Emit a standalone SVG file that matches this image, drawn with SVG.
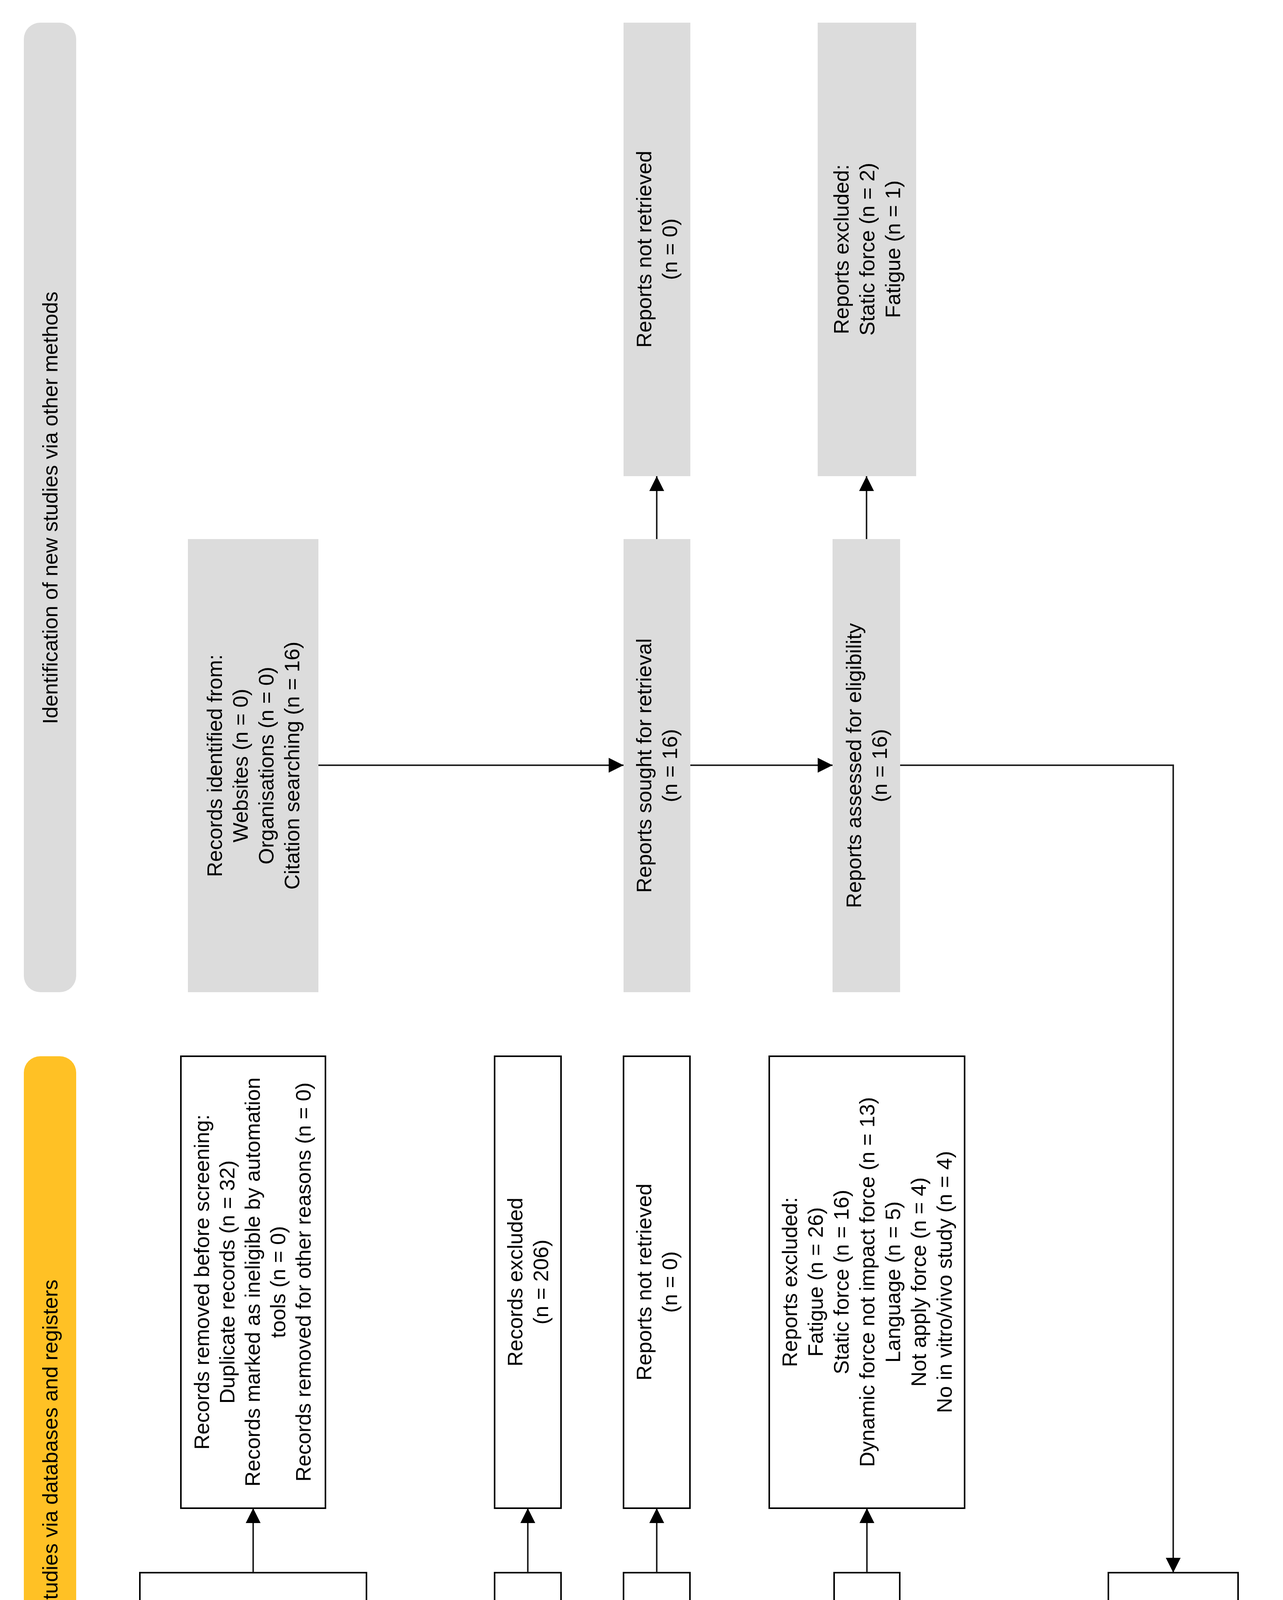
<svg xmlns="http://www.w3.org/2000/svg" width="3284" height="5455" viewBox="0 0 3284 5455">
<style>
text{font-family:"Liberation Sans",Arial,Helvetica,sans-serif;font-size:54px;fill:#000;text-anchor:middle}
.g{fill:#DCDCDC;stroke:none}
.w{fill:#FFFFFF;stroke:#000;stroke-width:4}
.bar-y{fill:#FFC125}
.bar-g{fill:#DCDCDC}
.lab{fill:#B8D1EE}
.c{fill:none;stroke:#222;stroke-width:4}
</style>
<defs>
<marker id="ah" viewBox="0 0 10 10" refX="10" refY="5" markerUnits="userSpaceOnUse" markerWidth="48" markerHeight="38" orient="auto">
<path d="M0,0 L10,5 L0,10 z" fill="#000"/>
</marker>
</defs>
<rect width="3284" height="5455" fill="#FFFFFF"/>

<g id="header-other">
<rect class="bar-g" x="61" y="58" width="134" height="2482" rx="42"/>
<text transform="translate(128,1300) rotate(-90)"><tspan x="0" dy="19">Identification of new studies via other methods</tspan></text>
</g>
<g id="header-db">
<rect class="bar-y" x="61" y="2704" width="134" height="2482" rx="42"/>
<text transform="translate(128,3945) rotate(-90)"><tspan x="0" dy="19">Identification of new studies via databases and registers</tspan></text>
</g>

<g id="label-identification">
<rect class="lab" x="360" y="5281" width="576" height="133" rx="42"/>
<text transform="translate(648,5347) rotate(180)"><tspan x="0" dy="19">Identification</tspan></text>
</g>
<g id="label-screening">
<rect class="lab" x="1267" y="5281" width="1240" height="133" rx="42"/>
<text transform="translate(1887,5347) rotate(180)"><tspan x="0" dy="19">Screening</tspan></text>
</g>
<g id="label-included">
<rect class="lab" x="2754" y="5281" width="492" height="133" rx="42"/>
<text transform="translate(3000,5347) rotate(180)"><tspan x="0" dy="19">Included</tspan></text>
</g>

<g id="other-identified">
<rect class="g" x="481" y="1380" width="334" height="1160"/>
<text transform="translate(648,1960) rotate(-90)"><tspan x="0" dy="-80">Records identified from:</tspan><tspan x="0" dy="66">Websites (n = 0)</tspan><tspan x="0" dy="66">Organisations (n = 0)</tspan><tspan x="0" dy="66">Citation searching (n = 16)</tspan></text>
</g>
<g id="other-not-retrieved">
<rect class="g" x="1596" y="58" width="171" height="1161"/>
<text transform="translate(1681,638) rotate(-90)"><tspan x="0" dy="-14">Reports not retrieved</tspan><tspan x="0" dy="66">(n = 0)</tspan></text>
</g>
<g id="other-excluded">
<rect class="g" x="2093" y="58" width="252" height="1161"/>
<text transform="translate(2219,638) rotate(-90)"><tspan x="0" dy="-47">Reports excluded:</tspan><tspan x="0" dy="66">Static force (n = 2)</tspan><tspan x="0" dy="66">Fatigue (n = 1)</tspan></text>
</g>
<g id="other-sought">
<rect class="g" x="1596" y="1380" width="171" height="1160"/>
<text transform="translate(1681,1960) rotate(-90)"><tspan x="0" dy="-14">Reports sought for retrieval</tspan><tspan x="0" dy="66">(n = 16)</tspan></text>
</g>
<g id="other-assessed">
<rect class="g" x="2131" y="1380" width="173" height="1160"/>
<text transform="translate(2218,1960) rotate(-90)"><tspan x="0" dy="-14">Reports assessed for eligibility</tspan><tspan x="0" dy="66">(n = 16)</tspan></text>
</g>

<g id="db-removed">
<rect class="w" x="463" y="2704" width="370" height="1157"/>
<text transform="translate(648,3282) rotate(-90)"><tspan x="0" dy="-113">Records removed before screening:</tspan><tspan x="0" dy="65">Duplicate records (n = 32)</tspan><tspan x="0" dy="65">Records marked as ineligible by automation</tspan><tspan x="0" dy="65">tools (n = 0)</tspan><tspan x="0" dy="65">Records removed for other reasons (n = 0)</tspan></text>
</g>
<g id="db-records-excluded">
<rect class="w" x="1266" y="2704" width="170" height="1157"/>
<text transform="translate(1351,3282) rotate(-90)"><tspan x="0" dy="-14">Records excluded</tspan><tspan x="0" dy="66">(n = 206)</tspan></text>
</g>
<g id="db-not-retrieved">
<rect class="w" x="1596" y="2704" width="170" height="1157"/>
<text transform="translate(1681,3282) rotate(-90)"><tspan x="0" dy="-14">Reports not retrieved</tspan><tspan x="0" dy="66">(n = 0)</tspan></text>
</g>
<g id="db-reports-excluded">
<rect class="w" x="1969" y="2704" width="500" height="1157"/>
<text transform="translate(2219,3282) rotate(-90)"><tspan x="0" dy="-179">Reports excluded:</tspan><tspan x="0" dy="66">Fatigue (n = 26)</tspan><tspan x="0" dy="66">Static force (n = 16)</tspan><tspan x="0" dy="66">Dynamic force not impact force (n = 13)</tspan><tspan x="0" dy="66">Language (n = 5)</tspan><tspan x="0" dy="66">Not apply force (n = 4)</tspan><tspan x="0" dy="66">No in vitro/vivo study (n = 4)</tspan></text>
</g>
<g id="db-identified">
<rect class="w" x="358" y="4026" width="580" height="1158"/>
<text transform="translate(648,4605) rotate(-90)"><tspan x="0" dy="-179">Records identified from:</tspan><tspan x="0" dy="67">Databases (n = 4):</tspan><tspan x="0" dy="67">MDPI (n = 141)</tspan><tspan x="0" dy="67">Scopus (n = 90)</tspan><tspan x="0" dy="67">Web of Science (n = 50)</tspan><tspan x="0" dy="67">PubMed (n = 33)</tspan><tspan x="0" dy="67">Registers (n = 314)</tspan></text>
</g>
<g id="db-screened">
<rect class="w" x="1266" y="4026" width="170" height="1158"/>
<text transform="translate(1351,4605) rotate(-90)"><tspan x="0" dy="-14">Records screened</tspan><tspan x="0" dy="66">(n = 282)</tspan></text>
</g>
<g id="db-sought">
<rect class="w" x="1596" y="4026" width="170" height="1158"/>
<text transform="translate(1681,4605) rotate(-90)"><tspan x="0" dy="-14">Reports sought for retrieval</tspan><tspan x="0" dy="66">(n = 76)</tspan></text>
</g>
<g id="db-assessed">
<rect class="w" x="2135" y="4026" width="168" height="1158"/>
<text transform="translate(2219,4605) rotate(-90)"><tspan x="0" dy="-14">Reports assessed for eligibility</tspan><tspan x="0" dy="66">(n = 76)</tspan></text>
</g>
<g id="included">
<rect class="w" x="2837" y="4026" width="332" height="1158"/>
<text transform="translate(3003,4605) rotate(-90)"><tspan x="0" dy="-80">New studies included in review</tspan><tspan x="0" dy="66">(n = 8)</tspan><tspan x="0" dy="66">Reports of new included studies</tspan><tspan x="0" dy="66">(n = 13)</tspan></text>
</g>

<g id="connectors">
<path class="c" d="M815,1959 H1596" marker-end="url(#ah)"/>
<path class="c" d="M1767,1959 H2131" marker-end="url(#ah)"/>
<path class="c" d="M2304,1959 H3003 V4026" marker-end="url(#ah)"/>
<path class="c" d="M1681,1380 V1219" marker-end="url(#ah)"/>
<path class="c" d="M2218,1380 V1219" marker-end="url(#ah)"/>
<path class="c" d="M648,4026 V3861" marker-end="url(#ah)"/>
<path class="c" d="M938,4605 H1266" marker-end="url(#ah)"/>
<path class="c" d="M1351,4026 V3861" marker-end="url(#ah)"/>
<path class="c" d="M1436,4605 H1596" marker-end="url(#ah)"/>
<path class="c" d="M1681,4026 V3861" marker-end="url(#ah)"/>
<path class="c" d="M1766,4605 H2135" marker-end="url(#ah)"/>
<path class="c" d="M2219,4026 V3861" marker-end="url(#ah)"/>
<path class="c" d="M2303,4605 H2837" marker-end="url(#ah)"/>
</g>
</svg>
